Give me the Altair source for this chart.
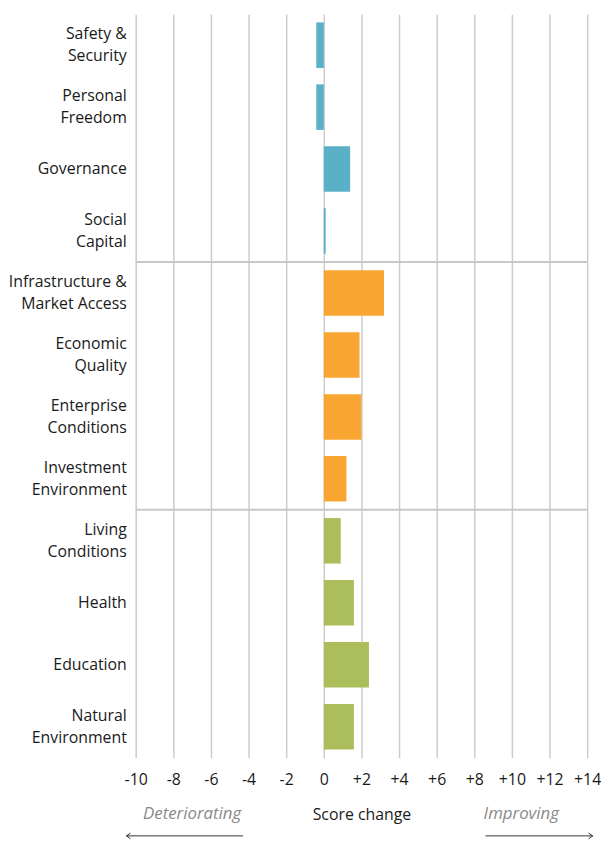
import altair as alt
import pandas as pd

labels = ["Safety &|Security", "Personal|Freedom", "Governance", "Social|Capital",
          "Infrastructure &|Market Access", "Economic|Quality", "Enterprise|Conditions",
          "Investment|Environment", "Living|Conditions", "Health", "Education",
          "Natural|Environment"]
values = [-0.4, -0.4, 1.4, 0.1, 3.2, 1.9, 2.0, 1.2, 0.9, 1.6, 2.4, 1.6]
groups = ["Inclusive", "Inclusive", "Inclusive", "Inclusive",
          "Open", "Open", "Open", "Open",
          "Empowered", "Empowered", "Empowered", "Empowered"]
group_colors = ["#5AB0C7", "#F8A631", "#ABBE5B"]
group_names = ["Inclusive", "Open", "Empowered"]
tick_values = list(range(-10, 15, 2))
separator_at = ["Infrastructure &|Market Access", "Living|Conditions"]
direction_text = ["Deteriorating", "Improving"]
direction_x = [-7.0, 10.5]
arrow_from = [-10.5, 8.6]
arrow_to = [-4.3, 14.3]

FONT = "Open Sans"
FS = 16
W, H = 456, 751
xscale = alt.Scale(domain=[-10, 14], nice=False, zero=False)
yscale = alt.Scale(paddingInner=0.265, paddingOuter=0.1325)

xaxis = alt.Axis(values=tick_values, grid=True, gridColor="#cccccc", gridWidth=1.5,
                 domain=False, ticks=False, labelFontSize=FS, labelColor="#1a1a1a",
                 labelFont=FONT, labelPadding=14, labelOverlap=False, labelFlush=False,
                 labelExpr="datum.value > 0 ? '+' + datum.value : '' + datum.value",
                 title="Score change", titleFont=FONT, titleFontSize=FS,
                 titleFontWeight="normal", titleColor="#1a1a1a", titlePadding=19)
yaxis = alt.Axis(title=None, domain=False, ticks=False, grid=False, labels=False)

df = pd.DataFrame({"label": labels, "value": values, "group": groups})
parts = [l.split("|") for l in labels]
df["lines"] = [len(p) for p in parts]
df["first"] = [p[0] for p in parts]
df["second"] = [p[1] if len(p) > 1 else "" for p in parts]

bars = alt.Chart(df).mark_bar().encode(
    x=alt.X("value:Q", scale=xscale, axis=xaxis),
    y=alt.Y("label:N", sort=labels, scale=yscale, axis=yaxis),
    color=alt.Color("group:N", scale=alt.Scale(domain=group_names, range=group_colors),
                    legend=None),
)

text_style = dict(align="right", baseline="middle", fontSize=FS, font=FONT, color="#1a1a1a")
yenc = alt.Y("label:N", sort=labels, scale=yscale, axis=yaxis)

label_top = alt.Chart(df).transform_filter("datum.lines == 2").mark_text(
    dy=-11, **text_style).encode(y=yenc, x=alt.value(-9), text="first:N")
label_bottom = alt.Chart(df).transform_filter("datum.lines == 2").mark_text(
    dy=11.5, **text_style).encode(y=yenc, x=alt.value(-9), text="second:N")
label_one = alt.Chart(df).transform_filter("datum.lines == 1").mark_text(
    **text_style).encode(y=yenc, x=alt.value(-9), text="first:N")

sep_df = pd.DataFrame({"label": separator_at})
seps = alt.Chart(sep_df).mark_rule(color="#c8c8c8", strokeWidth=2, yOffset=-8.3).encode(
    y=alt.Y("label:N", sort=labels, scale=yscale, bandPosition=0, axis=yaxis),
    x=alt.value(0), x2=alt.value(W),
)

txt_df = pd.DataFrame({"x": direction_x, "t": direction_text})
dir_text = alt.Chart(txt_df).mark_text(fontStyle="italic", color="#8a8a8a", fontSize=17,
                                       font=FONT, baseline="middle").encode(
    x=alt.X("x:Q", scale=xscale, axis=xaxis),
    y=alt.value(H + 57),
    text="t:N",
)

arr_df = pd.DataFrame({"x": arrow_from, "b": arrow_to})
arr_lines = alt.Chart(arr_df).mark_rule(color="#333333", strokeWidth=1).encode(
    x=alt.X("x:Q", scale=xscale, axis=xaxis),
    x2="b:Q",
    y=alt.value(H + 79),
)

left_head = alt.Chart(pd.DataFrame({"x": [arrow_from[0]]})).mark_point(
    shape="M1.2,-0.8L0,0L1.2,0.8", filled=False, color="#333333", size=50, strokeWidth=1,
    opacity=1).encode(
    x=alt.X("x:Q", scale=xscale, axis=xaxis),
    y=alt.value(H + 79),
)
right_head = alt.Chart(pd.DataFrame({"x": [arrow_to[1]]})).mark_point(
    shape="M-1.2,-0.8L0,0L-1.2,0.8", filled=False, color="#333333", size=50, strokeWidth=1,
    opacity=1).encode(
    x=alt.X("x:Q", scale=xscale, axis=xaxis),
    y=alt.value(H + 79),
)

chart = alt.layer(bars, label_top, label_bottom, label_one, seps, dir_text, arr_lines,
                  left_head, right_head).properties(
    width=W, height=H, padding={"left": 0, "top": 2, "right": 0, "bottom": 2}
).configure(font=FONT).configure_view(stroke=None)

chart.save("out.html", embed_options={"renderer": "svg", "actions": False})
